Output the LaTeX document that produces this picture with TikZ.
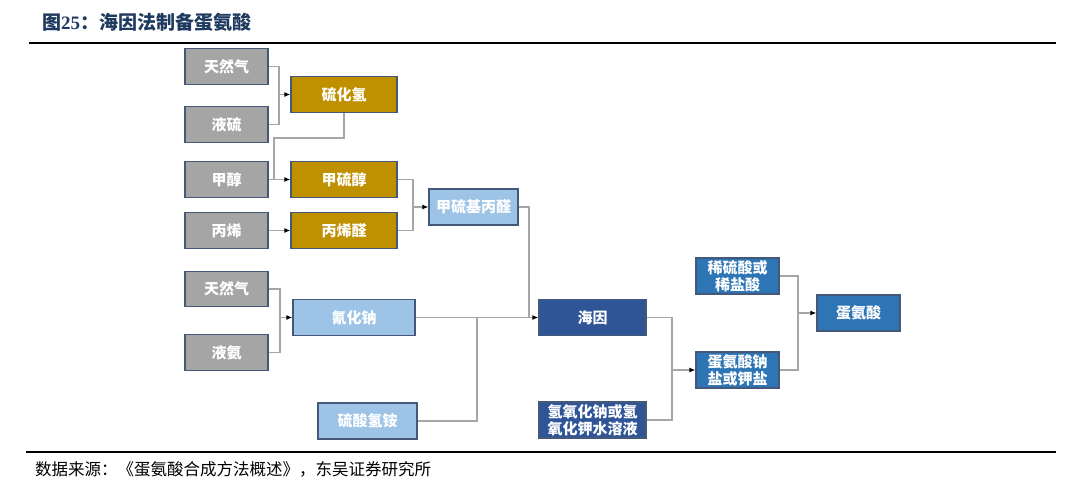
\documentclass[tikz,border=0pt]{standalone}
\usepackage{fontspec}
\setmainfont{Noto Sans CJK SC}
\newfontfamily\serifdig{Liberation Serif}
\usetikzlibrary{arrows.meta}
\definecolor{gfill}{HTML}{A5A5A5}
\definecolor{gold}{HTML}{BF9000}
\definecolor{lblue}{HTML}{9DC3E6}
\definecolor{dblue}{HTML}{2F5597}
\definecolor{mblue}{HTML}{2E75B6}
\definecolor{bord}{HTML}{44587A}
\definecolor{lngray}{HTML}{A6A6A6}
\definecolor{titleblue}{HTML}{1F3A60}
\tikzset{
  box/.style={draw=bord, line width=1.2pt, rectangle, inner sep=0pt, text=white,
    font=\fontsize{15}{17}\selectfont\bfseries, align=center, minimum height=35.5pt},
  graybox/.style={box, fill=gfill, minimum width=83pt},
  goldbox/.style={box, fill=gold, minimum width=106pt},
  lbbox/.style={box, fill=lblue},
  dbbox/.style={box, fill=dblue, minimum width=107pt},
  mbbox/.style={box, fill=mblue, minimum width=83pt, minimum height=36pt},
  ln/.style={draw=lngray, line width=1.3pt},
  arr/.style={ln, -{Latex[length=6pt,width=5pt,color=black]}}
}
\begin{document}
\begin{tikzpicture}[x=1pt, y=-1pt]
\useasboundingbox (0,0) rectangle (1080,496);
% title and rules
\node[anchor=west, inner sep=0pt, text=titleblue, font=\fontsize{19}{22}\selectfont\bfseries] (title) at (42,22.5) {图{\serifdig\bfseries 25}：海因法制备蛋氨酸};
\draw[line width=2pt] (29,43) -- (1056,43);
\draw[line width=1.5pt] (26,452) -- (1056,452);
\node[anchor=west, inner sep=0pt, font=\fontsize{16.5}{19}\selectfont] (src) at (35,469) {数据来源：《蛋氨酸合成方法概述》，东吴证券研究所};
% nodes
\node[graybox] (tq1) at (226.5,66.5) {天然气};
\node[graybox] (ls) at (226.5,124.5) {液硫};
\node[goldbox] (hs) at (344,94.5) {硫化氢};
\node[graybox] (jc) at (226.5,179.5) {甲醇};
\node[goldbox] (jlc) at (344,179.5) {甲硫醇};
\node[graybox] (bx) at (226.5,230.5) {丙烯};
\node[goldbox] (bxq) at (344,230.5) {丙烯醛};
\node[lbbox, minimum width=89pt, minimum height=36pt] (jlj) at (473.5,207) {甲硫基丙醛};
\node[graybox] (tq2) at (226.5,289) {天然气};
\node[graybox] (la) at (226.5,352.5) {液氨};
\node[lbbox, minimum width=122pt] (qhn) at (354,317.5) {氰化钠};
\node[lbbox, minimum width=99pt, minimum height=36pt] (lsqa) at (367.5,421) {硫酸氢铵};
\node[dbbox] (hy) at (592.5,317.5) {海因};
\node[dbbox, minimum height=36pt] (qyh) at (592.5,420) {氢氧化钠或氢\\氧化钾水溶液};
\node[mbbox] (xls) at (737.5,276) {稀硫酸或\\稀盐酸};
\node[mbbox] (dans) at (737.5,370) {蛋氨酸钠\\盐或钾盐};
\node[mbbox] (das) at (858.5,313) {蛋氨酸};
% junctions
\coordinate (j1) at (279,94.5);
\coordinate (j2) at (274,179.5);
\coordinate (j3) at (413,207);
\coordinate (j4) at (280,317.5);
\coordinate (j5) at (529,317.5);
\coordinate (j6) at (477,317.5);
\coordinate (j7) at (672,370);
\coordinate (j8) at (798,313);
% connectors
\draw[ln] (tq1.east) -| (j1);
\draw[ln] (ls.east) -| (j1);
\draw[arr] (j1) -- (hs.west);
\draw[ln] (hs.south) -- ++(0,25) -| (j2);
\draw[arr] (jc.east) -- (jlc.west);
\draw[arr] (bx.east) -- (bxq.west);
\draw[ln] (jlc.east) -| (j3);
\draw[ln] (bxq.east) -| (j3);
\draw[arr] (j3) -- (jlj.west);
\draw[ln] (tq2.east) -| (j4);
\draw[ln] (la.east) -| (j4);
\draw[arr] (j4) -- (qhn.west);
\draw[arr] (qhn.east) -- (hy.west);
\draw[ln] (jlj.east) -| (j5);
\draw[ln] (lsqa.east) -| (j6);
\draw[ln] (hy.east) -| (j7);
\draw[ln] (qyh.east) -| (j7);
\draw[arr] (j7) -- (dans.west);
\draw[ln] (xls.east) -| (j8);
\draw[ln] (dans.east) -| (j8);
\draw[arr] (j8) -- (das.west);
\end{tikzpicture}
\end{document}
